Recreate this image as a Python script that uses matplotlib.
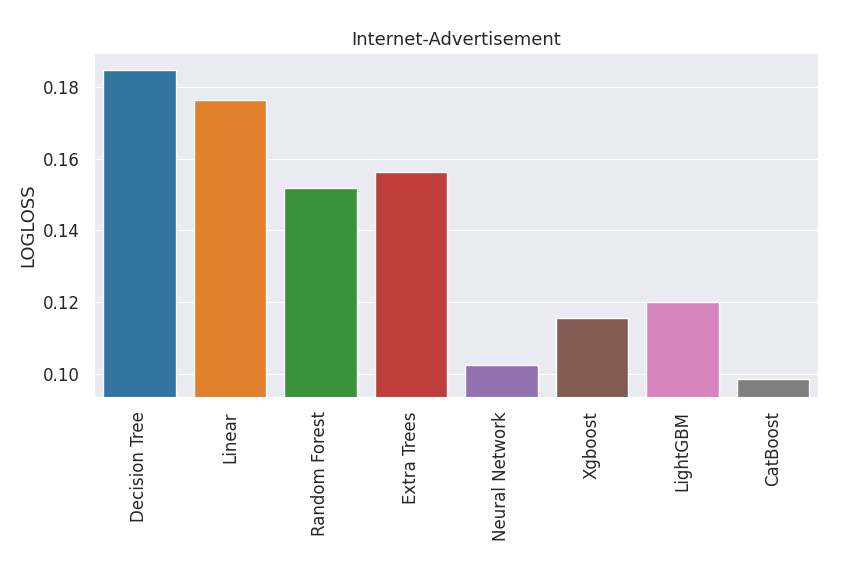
import matplotlib
matplotlib.use("Agg")
import matplotlib.pyplot as plt
import seaborn as sns
import pandas as pd

models = ["Decision Tree", "Linear", "Random Forest", "Extra Trees",
          "Neural Network", "Xgboost", "LightGBM", "CatBoost"]
logloss = [0.1848, 0.1765, 0.1519, 0.1564, 0.1025, 0.1155, 0.1199, 0.0986]

sns.set_style("darkgrid")
plt.rcParams['font.family'] = ['DejaVu Sans']

df = pd.DataFrame({"model": models, "logloss": logloss})

fig = plt.figure(figsize=(8.64, 5.76), dpi=100)
ax = fig.add_axes([0.109, 0.311, 0.838, 0.597])
sns.barplot(data=df, x="model", y="logloss", hue="model", palette="tab10",
            saturation=0.75, legend=False, ax=ax)
ax.set_ylim(0.0935, 0.1895)
ax.set_xlabel("")
ax.set_ylabel("LOGLOSS", fontsize=13)
ax.set_title("Internet-Advertisement", fontsize=13)
ax.tick_params(labelsize=12, pad=7)
plt.setp(ax.get_xticklabels(), rotation=90)
fig.savefig("out.png", dpi=100)
